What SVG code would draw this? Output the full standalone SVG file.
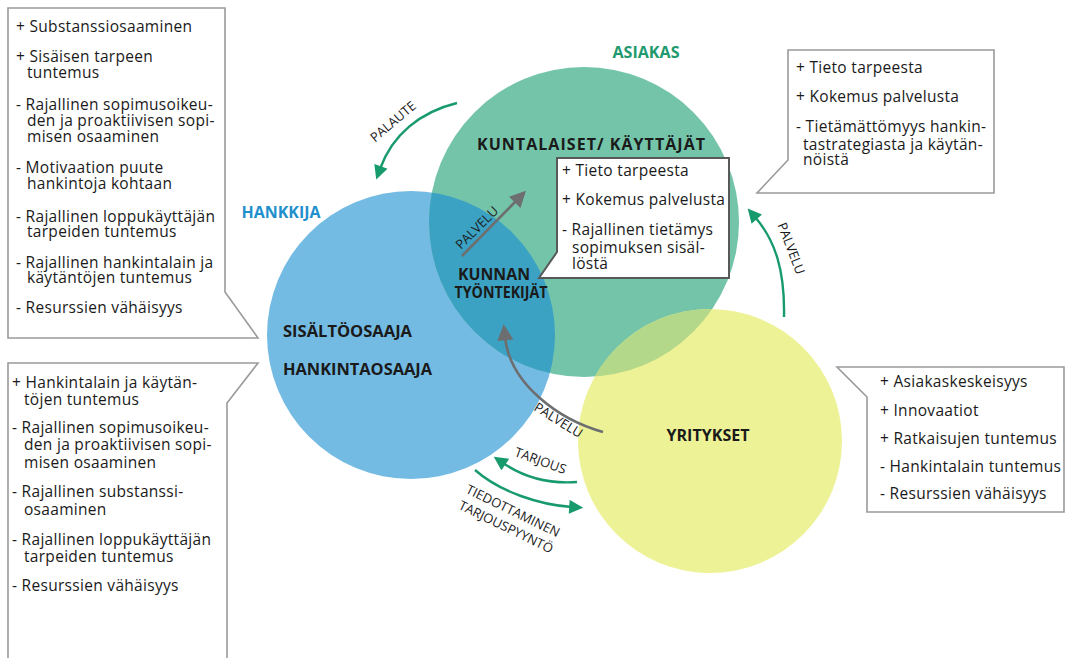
<svg xmlns="http://www.w3.org/2000/svg" width="1068" height="658" viewBox="0 0 1068 658">
<style>
.t{font-family:"Open Sans","Noto Sans",sans-serif;font-size:15.5px;letter-spacing:0.3px;fill:#1a1a1a}
.b{font-family:"Open Sans","Noto Sans",sans-serif;font-size:16px;font-weight:700;fill:#1a1a1a}
.l{font-family:"Open Sans","Noto Sans",sans-serif;font-size:13px;fill:#1a1a1a;text-anchor:middle}
.box{fill:#fff;stroke:#9a9a9a;stroke-width:1.6}
.cbox{fill:#fff;stroke:#58595b;stroke-width:2}
.ga{fill:none;stroke:#179a6c;stroke-width:2.4}
.gr{fill:none;stroke:#6d6e70;stroke-width:2.6}
</style>
<defs>
<clipPath id="cBlue"><circle cx="411" cy="335" r="144"/></clipPath>
<clipPath id="cGreen"><circle cx="584" cy="222" r="155"/></clipPath>
<marker id="mG" viewBox="0 0 10 10" refX="2" refY="5" markerWidth="16" markerHeight="14" markerUnits="userSpaceOnUse" orient="auto"><path d="M0,0 L10,5 L0,10 z" fill="#179a6c"/></marker>
<marker id="mK" viewBox="0 0 10 10" refX="2" refY="5" markerWidth="17" markerHeight="16" markerUnits="userSpaceOnUse" orient="auto"><path d="M0,0 L10,5 L0,10 z" fill="#6d6e70"/></marker>
</defs>

<g id="circles">
<circle id="hankkija-circle" cx="411" cy="335" r="144" fill="#74bbe3"/>
<circle id="asiakas-circle" cx="584" cy="222" r="155" fill="#74c4aa"/>
<circle cx="584" cy="222" r="155" fill="#3ca2c3" clip-path="url(#cBlue)"/>
<circle id="yritykset-circle" cx="710" cy="441" r="132" fill="#eef296"/>
<circle cx="710" cy="441" r="132" fill="#b4d889" clip-path="url(#cGreen)"/>
</g>

<g id="labels">
<text class="b" x="646" y="58" text-anchor="middle" textLength="67" lengthAdjust="spacingAndGlyphs" style="fill:#1e9a6e">ASIAKAS</text>
<text class="b" x="281" y="218" text-anchor="middle" textLength="79" lengthAdjust="spacingAndGlyphs" style="fill:#1f90cd">HANKKIJA</text>
<text class="b" x="591" y="150" text-anchor="middle" textLength="228" lengthAdjust="spacing">KUNTALAISET/ KÄYTTÄJÄT</text>
<text class="b" x="494" y="280" text-anchor="middle" textLength="72" lengthAdjust="spacingAndGlyphs">KUNNAN</text>
<text class="b" x="501" y="298" text-anchor="middle" textLength="93" lengthAdjust="spacingAndGlyphs">TYÖNTEKIJÄT</text>
<text class="b" x="283" y="337" textLength="129" lengthAdjust="spacingAndGlyphs">SISÄLTÖOSAAJA</text>
<text class="b" x="283" y="375" textLength="149" lengthAdjust="spacingAndGlyphs">HANKINTAOSAAJA</text>
<text class="b" x="708" y="441" text-anchor="middle" textLength="83" lengthAdjust="spacingAndGlyphs">YRITYKSET</text>
</g>

<g id="connectors">
<path class="ga" d="M457,103 C420,112 392,135 380,169" marker-end="url(#mG)"/>
<text class="l" transform="translate(396,125) rotate(-40)">PALAUTE</text>
<path class="ga" d="M784,317 C785,270 775,240 755,217" marker-end="url(#mG)"/>
<text class="l" transform="translate(787,250) rotate(69)">PALVELU</text>
<path class="gr" d="M462,256 L517,200" marker-end="url(#mK)"/>
<text class="l" transform="translate(480,231) rotate(-45)">PALVELU</text>
<path class="gr" d="M603,432 C560,420 510,385 505,337" marker-end="url(#mK)"/>
<text class="l" transform="translate(556,424) rotate(32)">PALVELU</text>
<path class="ga" d="M577,482 C550,484 525,478 503,463" marker-end="url(#mG)"/>
<text class="l" transform="translate(539,465) rotate(20)">TARJOUS</text>
<path class="ga" d="M475,470 C500,492 540,505 572,507" marker-end="url(#mG)"/>
<text class="l" transform="translate(511,515) rotate(26)">TIEDOTTAMINEN</text>
<text class="l" transform="translate(504,531) rotate(26)">TARJOUSPYYNTÖ</text>
</g>

<g id="callout-hankkija-top">
<path class="box" d="M8,8 H225 V292 L258,338 H8 Z"/>
<text class="t" x="16" y="32">+ Substanssiosaaminen</text>
<text class="t" x="16" y="62">+ Sisäisen tarpeen</text>
<text class="t" x="27" y="78">tuntemus</text>
<text class="t" x="16" y="110">- Rajallinen sopimusoikeu-</text>
<text class="t" x="27" y="126">den ja proaktiivisen sopi-</text>
<text class="t" x="27" y="142">misen osaaminen</text>
<text class="t" x="16" y="173">- Motivaation puute</text>
<text class="t" x="27" y="189">hankintoja kohtaan</text>
<text class="t" x="16" y="222">- Rajallinen loppukäyttäjän</text>
<text class="t" x="27" y="237">tarpeiden tuntemus</text>
<text class="t" x="16" y="268">- Rajallinen hankintalain ja</text>
<text class="t" x="27" y="283">käytäntöjen tuntemus</text>
<text class="t" x="16" y="313">- Resurssien vähäisyys</text>
</g>

<g id="callout-hankkija-bottom">
<path class="box" d="M8,363 H258 L227,403 V662 H8 Z"/>
<text class="t" x="12" y="388">+ Hankintalain ja käytän-</text>
<text class="t" x="24" y="405">töjen tuntemus</text>
<text class="t" x="12" y="433">- Rajallinen sopimusoikeu-</text>
<text class="t" x="24" y="450">den ja proaktiivisen sopi-</text>
<text class="t" x="24" y="468">misen osaaminen</text>
<text class="t" x="12" y="497">- Rajallinen substanssi-</text>
<text class="t" x="24" y="515">osaaminen</text>
<text class="t" x="12" y="545">- Rajallinen loppukäyttäjän</text>
<text class="t" x="24" y="562">tarpeiden tuntemus</text>
<text class="t" x="12" y="591">- Resurssien vähäisyys</text>
</g>

<g id="callout-asiakas">
<path class="box" d="M788,50 H994 V193 H757 L788,160 Z"/>
<text class="t" x="796" y="73">+ Tieto tarpeesta</text>
<text class="t" x="796" y="102">+ Kokemus palvelusta</text>
<text class="t" x="796" y="132">- Tietämättömyys hankin-</text>
<text class="t" x="803" y="150">tastrategiasta ja käytän-</text>
<text class="t" x="803" y="165">nöistä</text>
</g>

<g id="callout-yritykset">
<path class="box" d="M837,367 H1064 V512 H867 V397 Z"/>
<text class="t" x="880" y="387">+ Asiakaskeskeisyys</text>
<text class="t" x="880" y="416">+ Innovaatiot</text>
<text class="t" x="880" y="444">+ Ratkaisujen tuntemus</text>
<text class="t" x="880" y="472">- Hankintalain tuntemus</text>
<text class="t" x="880" y="499">- Resurssien vähäisyys</text>
</g>

<g id="callout-kunnan">
<path class="cbox" d="M557,158 H729 V278 H539 L557,252 Z"/>
<text class="t" x="562" y="176">+ Tieto tarpeesta</text>
<text class="t" x="562" y="205">+ Kokemus palvelusta</text>
<text class="t" x="562" y="235">- Rajallinen tietämys</text>
<text class="t" x="572" y="253">sopimuksen sisäl-</text>
<text class="t" x="572" y="269">löstä</text>
</g>
</svg>
